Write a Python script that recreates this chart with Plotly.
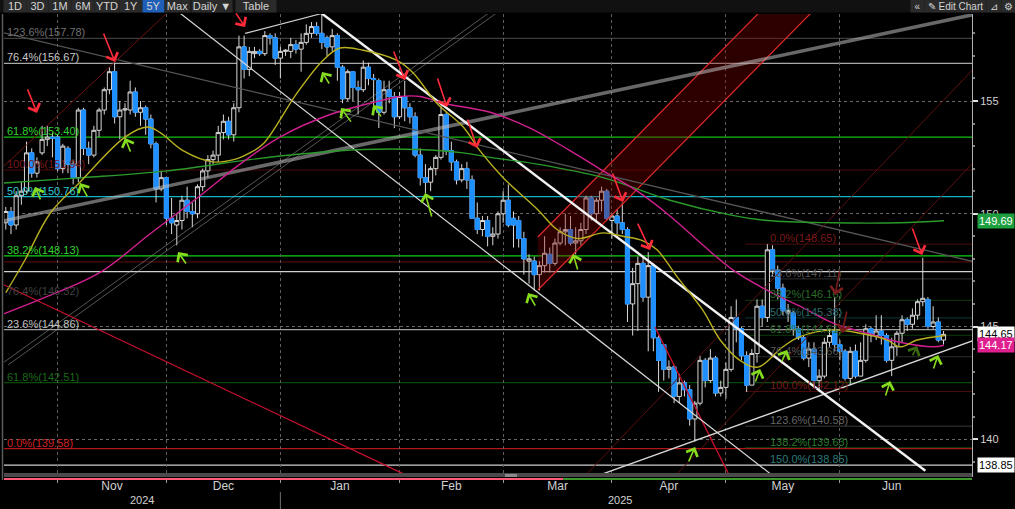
import plotly.graph_objects as go

# ---------------- candle data (trading-day index 0 = 17 Oct 2024) ----------------
OPEN = [149.6,150.1,149.5,150.8,151.0,152.7,151.8,152.7,153.3,153.4,153.4,
        152.0,152.9,152.2,151.6,154.6,152.9,152.6,153.7,154.6,155.5,156.3,154.3,154.6,154.6,155.4,154.5,154.7,154.2,153.1,151.1,151.6,
        149.8,149.5,149.7,150.6,150.1,150.0,151.2,151.9,152.4,152.6,153.6,154.1,153.5,154.7,157.4,156.4,157.1,157.2,157.1,157.9,157.8,156.9,
        157.2,157.2,157.5,157.3,157.6,158.0,158.3,158.0,157.8,157.4,157.9,156.5,155.1,156.3,155.6,155.5,156.5,156.0,155.9,154.5,155.5,155.2,154.3,
        155.2,154.7,154.3,152.6,151.6,151.4,152.0,152.5,154.4,152.8,152.3,151.5,152.0,151.5,149.8,149.3,149.7,149.0,149.1,150.0,
        150.6,149.8,149.7,148.9,147.9,147.9,147.3,147.7,148.2,147.8,148.7,149.2,149.3,148.7,148.8,149.3,150.7,150.0,150.6,151.0,149.7,
        149.9,149.6,149.3,146.0,146.9,147.8,146.3,147.7,144.5,144.2,143.1,143.2,141.9,142.5,142.2,140.9,141.6,143.5,142.6,143.6,142.05,142.3,
        143.1,145.4,144.9,143.7,142.4,143.8,145.9,145.4,148.4,147.5,146.7,145.6,145.6,144.9,144.5,143.6,144.0,142.6,142.8,144.3,144.8,144.2,
        143.9,142.7,143.9,142.8,143.5,144.9,144.6,144.8,144.6,143.5,144.1,144.7,145.3,145.1,145.5,146.1,146.2,145.0,145.2,144.4]
HIGH = [150.3,150.3,151.0,151.4,153.2,152.9,152.5,153.9,153.9,153.6,153.5,
        153.1,153.0,152.4,154.7,154.7,153.2,153.9,154.7,155.6,156.5,156.75,155.0,154.9,155.9,155.6,155.0,154.8,154.4,153.2,151.9,151.6,
        150.7,150.0,150.8,151.2,150.5,151.3,152.0,152.6,152.8,153.9,154.4,154.3,154.9,157.9,157.9,157.4,157.4,157.3,158.1,158.0,158.0,157.4,
        157.3,157.8,157.7,158.0,158.4,158.5,158.5,158.88,157.9,158.2,158.0,156.6,156.4,156.3,155.9,156.8,156.7,156.2,156.0,155.9,155.9,155.4,155.4,
        155.9,154.9,154.5,152.9,152.2,152.1,152.6,154.8,154.5,153.2,152.4,152.2,152.3,151.7,150.5,149.9,149.9,149.4,150.1,151.0,
        151.3,150.1,149.9,149.2,148.2,148.1,147.9,149.0,148.5,148.9,149.4,150.0,149.9,149.4,149.6,150.8,150.8,150.7,151.2,151.1,150.0,
        150.2,150.5,149.4,147.6,148.1,148.1,148.3,147.8,144.6,144.2,143.5,143.3,142.9,142.6,142.4,141.7,143.7,143.6,144.0,143.7,142.6,143.4,
        145.9,146.2,145.0,143.9,144.0,146.2,146.2,148.65,148.6,147.7,146.9,146.0,145.7,145.0,144.6,144.3,144.3,143.1,144.5,144.9,146.3,144.4,
        144.0,144.1,144.2,144.3,145.1,145.0,145.5,145.5,144.7,144.5,144.8,145.5,145.4,145.8,146.2,148.05,146.3,145.9,145.4,144.8]
LOW = [149.3,149.1,149.3,150.4,150.9,151.6,151.6,152.6,153.0,152.5,151.9,
       151.8,151.8,151.3,151.4,152.6,152.2,152.5,153.4,154.4,155.3,154.0,153.3,153.3,154.4,154.3,153.9,153.5,152.9,150.5,151.0,149.5,
       149.1,148.6,149.3,149.8,149.4,149.8,151.0,151.6,152.2,152.3,153.3,153.3,153.2,154.5,156.0,156.1,156.9,157.0,157.0,157.5,156.6,156.0,
       157.0,156.9,157.1,156.3,157.5,157.8,157.9,157.3,157.0,157.2,155.9,154.9,155.0,155.0,154.4,155.4,155.7,154.8,153.8,154.4,154.9,153.8,154.2,
       154.1,154.0,152.5,151.25,150.9,151.0,151.7,152.4,152.6,151.9,151.3,151.4,151.1,149.8,149.1,149.0,148.55,148.6,148.9,149.6,
       149.4,148.5,148.5,147.3,146.9,146.6,146.6,147.4,147.4,147.7,148.6,148.6,148.6,148.2,148.6,149.1,149.7,149.6,150.1,149.7,148.9,
       149.1,149.1,145.2,144.6,144.8,146.1,143.9,143.9,142.1,142.6,142.7,141.6,141.6,141.9,140.6,139.9,141.5,142.3,142.5,141.9,141.9,141.8,
       143.0,144.3,143.5,142.1,142.4,143.4,145.0,145.2,147.2,146.2,145.5,145.2,144.6,144.4,143.5,143.2,142.4,142.1,142.7,144.1,143.9,143.5,
       142.6,142.4,142.7,142.8,143.4,144.3,144.4,144.2,143.4,142.8,143.7,144.3,144.8,144.9,145.3,145.9,144.9,144.9,144.3,144.2]
CLOSE = [150.1,149.5,150.8,151.0,152.7,151.8,152.3,153.3,153.4,153.35,152.0,
         153.0,152.2,151.6,154.6,152.9,152.6,153.7,154.6,155.5,156.3,154.3,154.6,154.65,155.4,154.5,154.7,154.2,153.1,151.1,151.6,149.8,
         149.6,149.7,150.6,150.1,150.0,151.2,151.9,152.4,152.6,153.6,154.1,153.5,154.7,157.4,156.4,157.2,157.2,157.1,157.9,157.8,156.9,157.2,
         157.25,157.5,157.3,157.6,158.0,158.3,158.0,157.6,157.4,157.9,156.5,155.1,156.3,155.6,155.5,156.5,156.0,155.95,154.5,155.5,155.2,154.3,155.2,
         154.7,154.3,152.6,151.6,151.4,152.0,152.5,154.4,152.8,152.3,151.5,152.0,151.5,149.8,149.3,149.7,149.0,149.1,150.0,150.6,
         149.5,149.5,148.9,148.0,148.0,147.3,147.7,148.25,147.8,148.7,149.2,149.3,148.7,148.8,149.3,150.7,150.0,150.6,151.0,149.8,149.9,
         149.6,149.3,146.0,146.9,147.8,146.3,147.7,144.5,143.5,143.1,143.2,141.9,142.5,142.2,140.9,141.6,143.5,142.6,143.6,142.05,142.3,143.1,
         145.4,144.9,143.7,142.4,143.8,145.9,145.4,148.4,147.5,146.7,145.7,145.7,144.9,144.5,143.6,144.0,142.6,142.8,144.3,144.6,144.2,143.9,
         142.7,143.9,142.8,143.5,144.9,144.6,144.8,144.6,143.5,144.1,144.7,145.3,145.1,145.5,146.1,146.25,145.0,145.2,144.4,144.65]
DAY = list(range(len(CLOSE)))

# ---------------- moving averages (day index, value) ----------------
MA_SHORT_X = [0, 3.7, 8.5, 14.3, 23, 27.3, 29.8, 34.2, 40, 44, 47.1, 49.7, 56.2, 61.2, 64.5, 69, 75.5, 78.6, 83.2,
              88.3, 91.5, 96, 102.6, 106.4, 110.3, 115.3, 119.1, 123, 125.7, 129.6, 134.6, 137.9, 141.7, 145.2, 150,
              153.3, 159.7, 164.9, 170.1, 172.6, 175.9, 181.3]
MA_SHORT_Y = [146.5, 147.95, 150.0, 151.4, 153.4, 153.85, 153.6, 152.8, 152.3, 152.4, 152.7, 153.1, 155.35, 156.8,
              157.35, 157.25, 156.8, 156.25, 154.9, 153.85, 152.8, 151.6, 150.2, 149.3, 148.9, 149.15, 149.0, 148.8,
              148.4, 147.2, 145.7, 144.4, 143.5, 143.2, 144.1, 144.55, 144.85, 144.7, 144.4, 144.1, 144.4, 144.6]
MA_MID_X = [-1.12, 6.6, 18.2, 27.8, 37.5, 45.2, 52.9, 62.6, 70.3, 76.1, 80, 84.4, 93.5, 101.2, 108.9, 115.3, 121.9,
            128.2, 134.6, 140.4, 147, 153.3, 159.7, 166.3, 172.6, 179, 181.1]
MA_MID_Y = [145.5, 146.2, 147.4, 149.1, 150.8, 152.2, 153.4, 154.4, 154.9, 155.2, 155.2, 154.9, 154.5, 153.8, 152.8,
            151.9, 151.0, 149.9, 148.6, 147.5, 146.6, 145.9, 145.15, 144.7, 144.3, 144.1, 144.17]
MA_LONG_X = [-1.12, 14.9, 31.1, 47.1, 56.8, 69, 79.4, 88.3, 93.5, 102.6, 115.3, 128.2, 139.8, 147, 159.7, 172.6, 181.1]
MA_LONG_Y = [151.35, 151.6, 151.9, 152.4, 152.65, 152.85, 152.85, 152.7, 152.5, 152.2, 151.6, 150.6, 149.95, 149.7,
             149.6, 149.6, 149.69]

# ---------------- drawings (day index, price) ----------------
TRENDLINES = [  # x0, y0, x1, y1, colour, width
    (-1.12, 149.65, 187.1, 158.85, "rgba(190,190,190,0.55)", 3.5),
    (-1.12, 158.06, 187.1, 147.86, "#555555", 1.3),
    (-1.12, 143.29, 93.5, 158.95, "rgba(170,170,170,0.5)", 1),
    (0.42, 143.29, 95.0, 158.95, "rgba(170,170,170,0.5)", 1),
    (-0.54, 152.07, 31.1, 158.9, "#6a1212", 1),
    (111.6, 138.33, 187.1, 156.5, "#5a1010", 1),
    (129.0, 138.33, 187.1, 152.35, "#5a1010", 1),
    (-1.12, 146.93, 78.0, 138.33, "#c8102e", 1.3),
    (125.3, 144.98, 139.8, 138.33, "#c8102e", 1.3),
    (33.6, 158.9, 148.5, 138.3, "#d8d8d8", 1.2),
    (46.2, 158.0, 61, 158.88, "#d0d0d0", 1.2),
    (114.7, 138.42, 187.1, 144.41, "#d8d8d8", 1.4),
    (61, 158.88, 177.5, 138.6, "#f2f2f2", 2.4),
]
BAND_X = [102.7, 147.0, 157.0, 102.7]
BAND_Y = [148.97, 159.29, 159.27, 146.62]

FULL_LEVELS = [157.78, 156.67, 153.40, 151.94, 150.76, 148.13, 147.87, 147.43, 144.86, 142.51, 139.58, 138.85]
FULL_COLORS = ["#3c3c3c", "#a8a8a8", "#12c012", "#4a0a0a", "#12b4c4", "#12d012", "#4a0a0a", "#d0d0d0",
               "#a0a0a0", "#0a4a0a", "#b01818", "#d0d0d0"]
LEFT_LABEL_LEVELS = [157.78, 156.67, 153.40, 151.94, 150.76, 148.13, 146.32, 144.86, 142.51, 139.58]
LEFT_LABELS = ["123.6%(157.78)", "76.4%(156.67)", "61.8%(153.40)", "100.0%(151.94)", "50.0%(150.76)",
               "38.2%(148.13)", "76.4%(146.32)", "23.6%(144.86)", "61.8%(142.51)", "0.0%(139.58)"]
LEFT_LABEL_COLORS = ["#707070", "#c8c8c8", "#30d030", "#7a1a1a", "#30c8d0", "#30d030", "#404040", "#c0c0c0",
                     "#1a6a1a", "#d02020"]
RIGHT_START = 142.7
RIGHT_LEVELS = [148.65, 147.11, 146.16, 145.38, 144.61, 143.66, 142.12, 140.58, 139.63, 138.85]
RIGHT_LABELS = ["0.0%(148.65)", "23.6%(147.11)", "38.2%(146.16)", "50.0%(145.38)", "61.8%(144.61)",
                "76.4%(143.66)", "100.0%(142.12)", "123.6%(140.58)", "138.2%(139.63)", "150.0%(138.85)"]
RIGHT_LINE_COLORS = ["#4a0c0c", "#2e2e2e", "#0c3a0c", "#0c3a3a", "#0c3a0c", "#2e2e2e", "#4a0c0c", "#3a3a3a",
                     "#0c3a0c", "#d0d0d0"]
RIGHT_LABEL_COLORS = ["#7a1a1a", "#555555", "#2a6a2a", "#2a6a6a", "#2a6a2a", "#555555", "#7a1a1a", "#666666",
                      "#2a7a2a", "#2a7a7a"]

RED_ARROWS = [  # tail x, tail y, tip x, tip y
    (4.09, 155.58, 6.02, 154.47), (18.76, 158.06, 21.08, 156.73), (44.25, 158.95, 46.18, 158.28),
    (74.75, 157.26, 77.07, 155.93), (83.24, 156.06, 85.17, 154.73), (89.03, 154.25, 90.97, 152.92),
    (117.03, 151.85, 119.15, 150.52), (121.85, 149.63, 124.36, 148.39), (174.9, 149.41, 176.87, 148.17)]
DIM_RED_ARROWS = [(161.0, 147.51, 160.08, 146.40), (162.4, 145.73, 161.4, 144.71)]
GREEN_ARROWS = [
    (6.80, 150.57, 5.64, 151.19), (15.87, 150.70, 14.32, 151.36), (24.17, 152.69, 23.01, 153.36),
    (34.98, 147.73, 33.24, 148.30), (62.59, 155.71, 61.04, 156.29), (66.83, 154.02, 64.71, 154.69),
    (72.63, 154.25, 70.89, 154.82), (82.28, 149.81, 80.93, 150.92), (102.36, 145.86, 100.81, 146.49),
    (110.46, 147.46, 109.5, 148.22), (131.7, 138.95, 133.05, 139.66), (144.6, 142.49, 145.6, 143.12),
    (149.65, 143.38, 150.81, 143.96), (169.73, 141.87, 170.7, 142.58), (178.99, 143.07, 179.96, 143.74)]
DIM_GREEN_ARROWS = [(174.9, 143.65, 175.9, 144.14)]

MONTH_LABELS = ["Nov", "Dec", "Jan", "Feb", "Mar", "Apr", "May", "Jun"]
MONTH_LABEL_POS = [20.5, 42, 64.5, 86, 106.5, 128, 150, 171]
MONTH_BOUNDARIES = [10, 31, 53, 76, 96, 117, 139, 161]
YEAR_LABELS = ["2024", "2025"]
YEAR_LABEL_POS = [26.3, 118.6]
Y_TICKS = [140, 145, 150, 155]
FIB_EXT_LAST = 138.85

# ---------------- layout geometry ----------------
W, H = 1015, 509
PX_L, PX_R, PY_T, PY_B = 4, 972, 14, 477
X_RANGE = [-0.35, 186.5]
Y_RANGE = [138.326, 158.858]
FONT = "Liberation Sans, Arial, sans-serif"


def xp(px):
    return (px - PX_L) / (PX_R - PX_L)


def yp(py):
    return (PY_B - py) / (PY_B - PY_T)


fig = go.Figure()
shapes = []
ann = []

# horizontal fib levels
for lv, col in zip(FULL_LEVELS, FULL_COLORS):
    shapes.append(dict(type="line", xref="x", yref="y", x0=X_RANGE[0], x1=X_RANGE[1], y0=lv, y1=lv,
                       line=dict(color=col, width=1.2), layer="below"))
for lv, col in zip(RIGHT_LEVELS[:-1], RIGHT_LINE_COLORS[:-1]):
    shapes.append(dict(type="line", xref="x", yref="y", x0=RIGHT_START, x1=X_RANGE[1], y0=lv, y1=lv,
                       line=dict(color=col, width=1), layer="below"))

# red channel band
fig.add_trace(go.Scatter(x=BAND_X, y=BAND_Y, mode="lines", fill="toself", fillcolor="rgba(140,0,0,0.32)",
                         line=dict(width=0), hoverinfo="skip"))
fig.add_trace(go.Scatter(x=[BAND_X[0], BAND_X[1]], y=[BAND_Y[0], BAND_Y[1]], mode="lines",
                         line=dict(color="#e02828", width=1.2), hoverinfo="skip"))
fig.add_trace(go.Scatter(x=[BAND_X[3], BAND_X[2]], y=[BAND_Y[3], BAND_Y[2]], mode="lines",
                         line=dict(color="#e02828", width=1.2), hoverinfo="skip"))

# trendlines
for x0, y0, x1, y1, col, wd in TRENDLINES:
    fig.add_trace(go.Scatter(x=[x0, x1], y=[y0, y1], mode="lines", line=dict(color=col, width=wd),
                             hoverinfo="skip"))

# moving averages
fig.add_trace(go.Scatter(x=MA_LONG_X, y=MA_LONG_Y, mode="lines", line=dict(color="#2a9a2a", width=1.4, shape="spline"),
                         hoverinfo="skip"))
fig.add_trace(go.Scatter(x=MA_MID_X, y=MA_MID_Y, mode="lines", line=dict(color="#d0208f", width=1.4, shape="spline"),
                         hoverinfo="skip"))
fig.add_trace(go.Scatter(x=MA_SHORT_X, y=MA_SHORT_Y, mode="lines", line=dict(color="#b8b020", width=1.4, shape="spline"),
                         hoverinfo="skip"))

# candles
fig.add_trace(go.Candlestick(x=DAY, open=OPEN, high=HIGH, low=LOW, close=CLOSE,
                             increasing=dict(line=dict(color="#d8d8d8", width=1), fillcolor="#000000"),
                             decreasing=dict(line=dict(color="#d8d8d8", width=1), fillcolor="#1e8fff"),
                             hoverinfo="skip"))
dec_o = [o if c < o else None for o, c in zip(OPEN, CLOSE)]
dec_c = [c if c < o else None for o, c in zip(OPEN, CLOSE)]
fig.add_trace(go.Candlestick(x=DAY, open=dec_o, high=dec_o, low=dec_c, close=dec_c,
                             increasing=dict(line=dict(color="#1e8fff", width=1), fillcolor="#1e8fff"),
                             decreasing=dict(line=dict(color="#1e8fff", width=1), fillcolor="#1e8fff"),
                             hoverinfo="skip"))

# fib labels
for lv, txt, col in zip(LEFT_LABEL_LEVELS, LEFT_LABELS, LEFT_LABEL_COLORS):
    ann.append(dict(x=-0.15, y=lv, xref="x", yref="y", text=txt, showarrow=False, xanchor="left",
                    yanchor="bottom", yshift=-2, font=dict(family=FONT, size=11, color=col)))
for lv, txt, col in zip(RIGHT_LEVELS, RIGHT_LABELS, RIGHT_LABEL_COLORS):
    ann.append(dict(x=147.2, y=lv, xref="x", yref="y", text=txt, showarrow=False, xanchor="left",
                    yanchor="bottom", yshift=-2, font=dict(family=FONT, size=11, color=col)))

# arrows
def add_arrows(lst, col):
    for tx, ty, hx, hy in lst:
        ann.append(dict(x=hx, y=hy, ax=tx, ay=ty, xref="x", yref="y", axref="x", ayref="y", text="",
                        showarrow=True, arrowhead=4, arrowsize=1.5, arrowwidth=1.6, arrowcolor=col, standoff=0))


add_arrows(RED_ARROWS, "#ff2a3a")
add_arrows(DIM_RED_ARROWS, "#7a1c1c")
add_arrows(GREEN_ARROWS, "#86dc1e")
add_arrows(DIM_GREEN_ARROWS, "#3a6a10")

# bottom strip
shapes.append(dict(type="rect", xref="paper", yref="paper", x0=0, x1=1, y0=yp(477), y1=yp(473),
                   fillcolor="#4a4a4a", line=dict(width=0)))
shapes.append(dict(type="rect", xref="paper", yref="paper", x0=xp(505), x1=xp(517), y0=yp(477), y1=yp(474),
                   fillcolor="#8a8a8a", line=dict(width=0)))
shapes.append(dict(type="line", xref="x", yref="paper", x0=X_RANGE[0], x1=107.6, y0=yp(479), y1=yp(479),
                   line=dict(color="#ff5a78", width=2)))
shapes.append(dict(type="line", xref="x", yref="paper", x0=107.6, x1=X_RANGE[1], y0=yp(479), y1=yp(479),
                   line=dict(color="#3c9a2a", width=2)))
# left border
shapes.append(dict(type="line", xref="paper", yref="paper", x0=xp(2.5), x1=xp(2.5), y0=yp(480), y1=yp(14),
                   line=dict(color="#5a5a5a", width=1.5)))
# year separator + labels
shapes.append(dict(type="line", xref="x", yref="paper", x0=53, x1=53, y0=yp(509), y1=yp(492),
                   line=dict(color="#707070", width=1)))
for t, pos in zip(YEAR_LABELS, YEAR_LABEL_POS):
    ann.append(dict(x=pos, y=yp(500), xref="x", yref="paper", text=t, showarrow=False,
                    xanchor="center", yanchor="middle", font=dict(family=FONT, size=11, color="#d0d0d0")))

# right axis value boxes
def value_box(val, bg, fg):
    ann.append(dict(x=xp(996), y=val, xref="paper", yref="y", text=f"{val:.2f}", showarrow=False,
                    xanchor="center", yanchor="middle", bgcolor=bg, borderpad=1,
                    font=dict(family=FONT, size=11, color=fg)))


value_box(MA_LONG_Y[-1], "#1fa040", "#ffffff")
value_box(CLOSE[-1], "#ffffff", "#000000")
value_box(MA_MID_Y[-1], "#e0208f", "#ffffff")
value_box(FIB_EXT_LAST, "#ffffff", "#000000")

# top toolbar (drawn as boxed annotations)
def tool_box(txt, a, b, bg, size=11):
    ann.append(dict(x=xp((a + b) / 2), y=yp(6.5), xref="paper", yref="paper", text=txt, showarrow=False,
                    xanchor="center", yanchor="middle", width=b - a, height=12, bgcolor=bg, borderpad=0,
                    font=dict(family=FONT, size=size, color="#d4d4d4")))


tool_box(" ", 0, W, "#111111")
BUTTONS = [("1D", 4, 26), ("3D", 27, 48), ("1M", 49, 71), ("6M", 72, 94), ("YTD", 95, 119), ("1Y", 120, 142),
           ("5Y", 143, 164), ("Max", 165, 190), ("Daily ▼", 192, 232), ("Table", 236, 276)]
for txt, a, b in BUTTONS:
    tool_box(txt, a, b, "#1f5fb8" if txt == "5Y" else "#2a2a2a")
for txt, a, b in [("«", 911, 924), ("✎ Edit Chart", 925, 986), ("⊿", 987, 1001), ("⚙", 1002, 1015)]:
    tool_box(txt, a, b, "#2a2a2a", 10)

fig.update_layout(
    width=W, height=H,
    margin=dict(l=PX_L, r=W - PX_R, t=PY_T, b=H - PY_B, autoexpand=False),
    paper_bgcolor="#000000", plot_bgcolor="#000000",
    showlegend=False, boxgap=0.2, boxgroupgap=0, hovermode=False,
    shapes=shapes, annotations=ann,
    xaxis=dict(range=X_RANGE, type="linear", rangeslider=dict(visible=False), showgrid=False, zeroline=False,
               tickmode="array", tickvals=MONTH_LABEL_POS, ticktext=MONTH_LABELS, ticks="", showline=False,
               automargin=False,
               tickfont=dict(family=FONT, size=12, color="#d0d0d0"),
               minor=dict(tickmode="array", tickvals=MONTH_BOUNDARIES, ticks="outside", ticklen=5,
                          tickcolor="#9a9a9a", showgrid=True, gridcolor="#5e5e5e", griddash="dot", gridwidth=1)),
    yaxis=dict(range=Y_RANGE, side="right", tickmode="array", tickvals=Y_TICKS, showgrid=True, automargin=False,
               gridcolor="#6a6a6a", griddash="dot", zeroline=False, ticks="outside", ticklen=5, tickwidth=2,
               tickcolor="#e0e0e0", showline=True, linecolor="#b0b0b0", linewidth=1,
               tickfont=dict(family=FONT, size=11, color="#d0d0d0"),
               minor=dict(dtick=1, ticks="outside", ticklen=2, tickcolor="#808080", showgrid=False)),
)

fig.write_html("out.html", config={"displayModeBar": False},
               post_script="document.body.style.margin='0';document.body.style.background='#000';")
